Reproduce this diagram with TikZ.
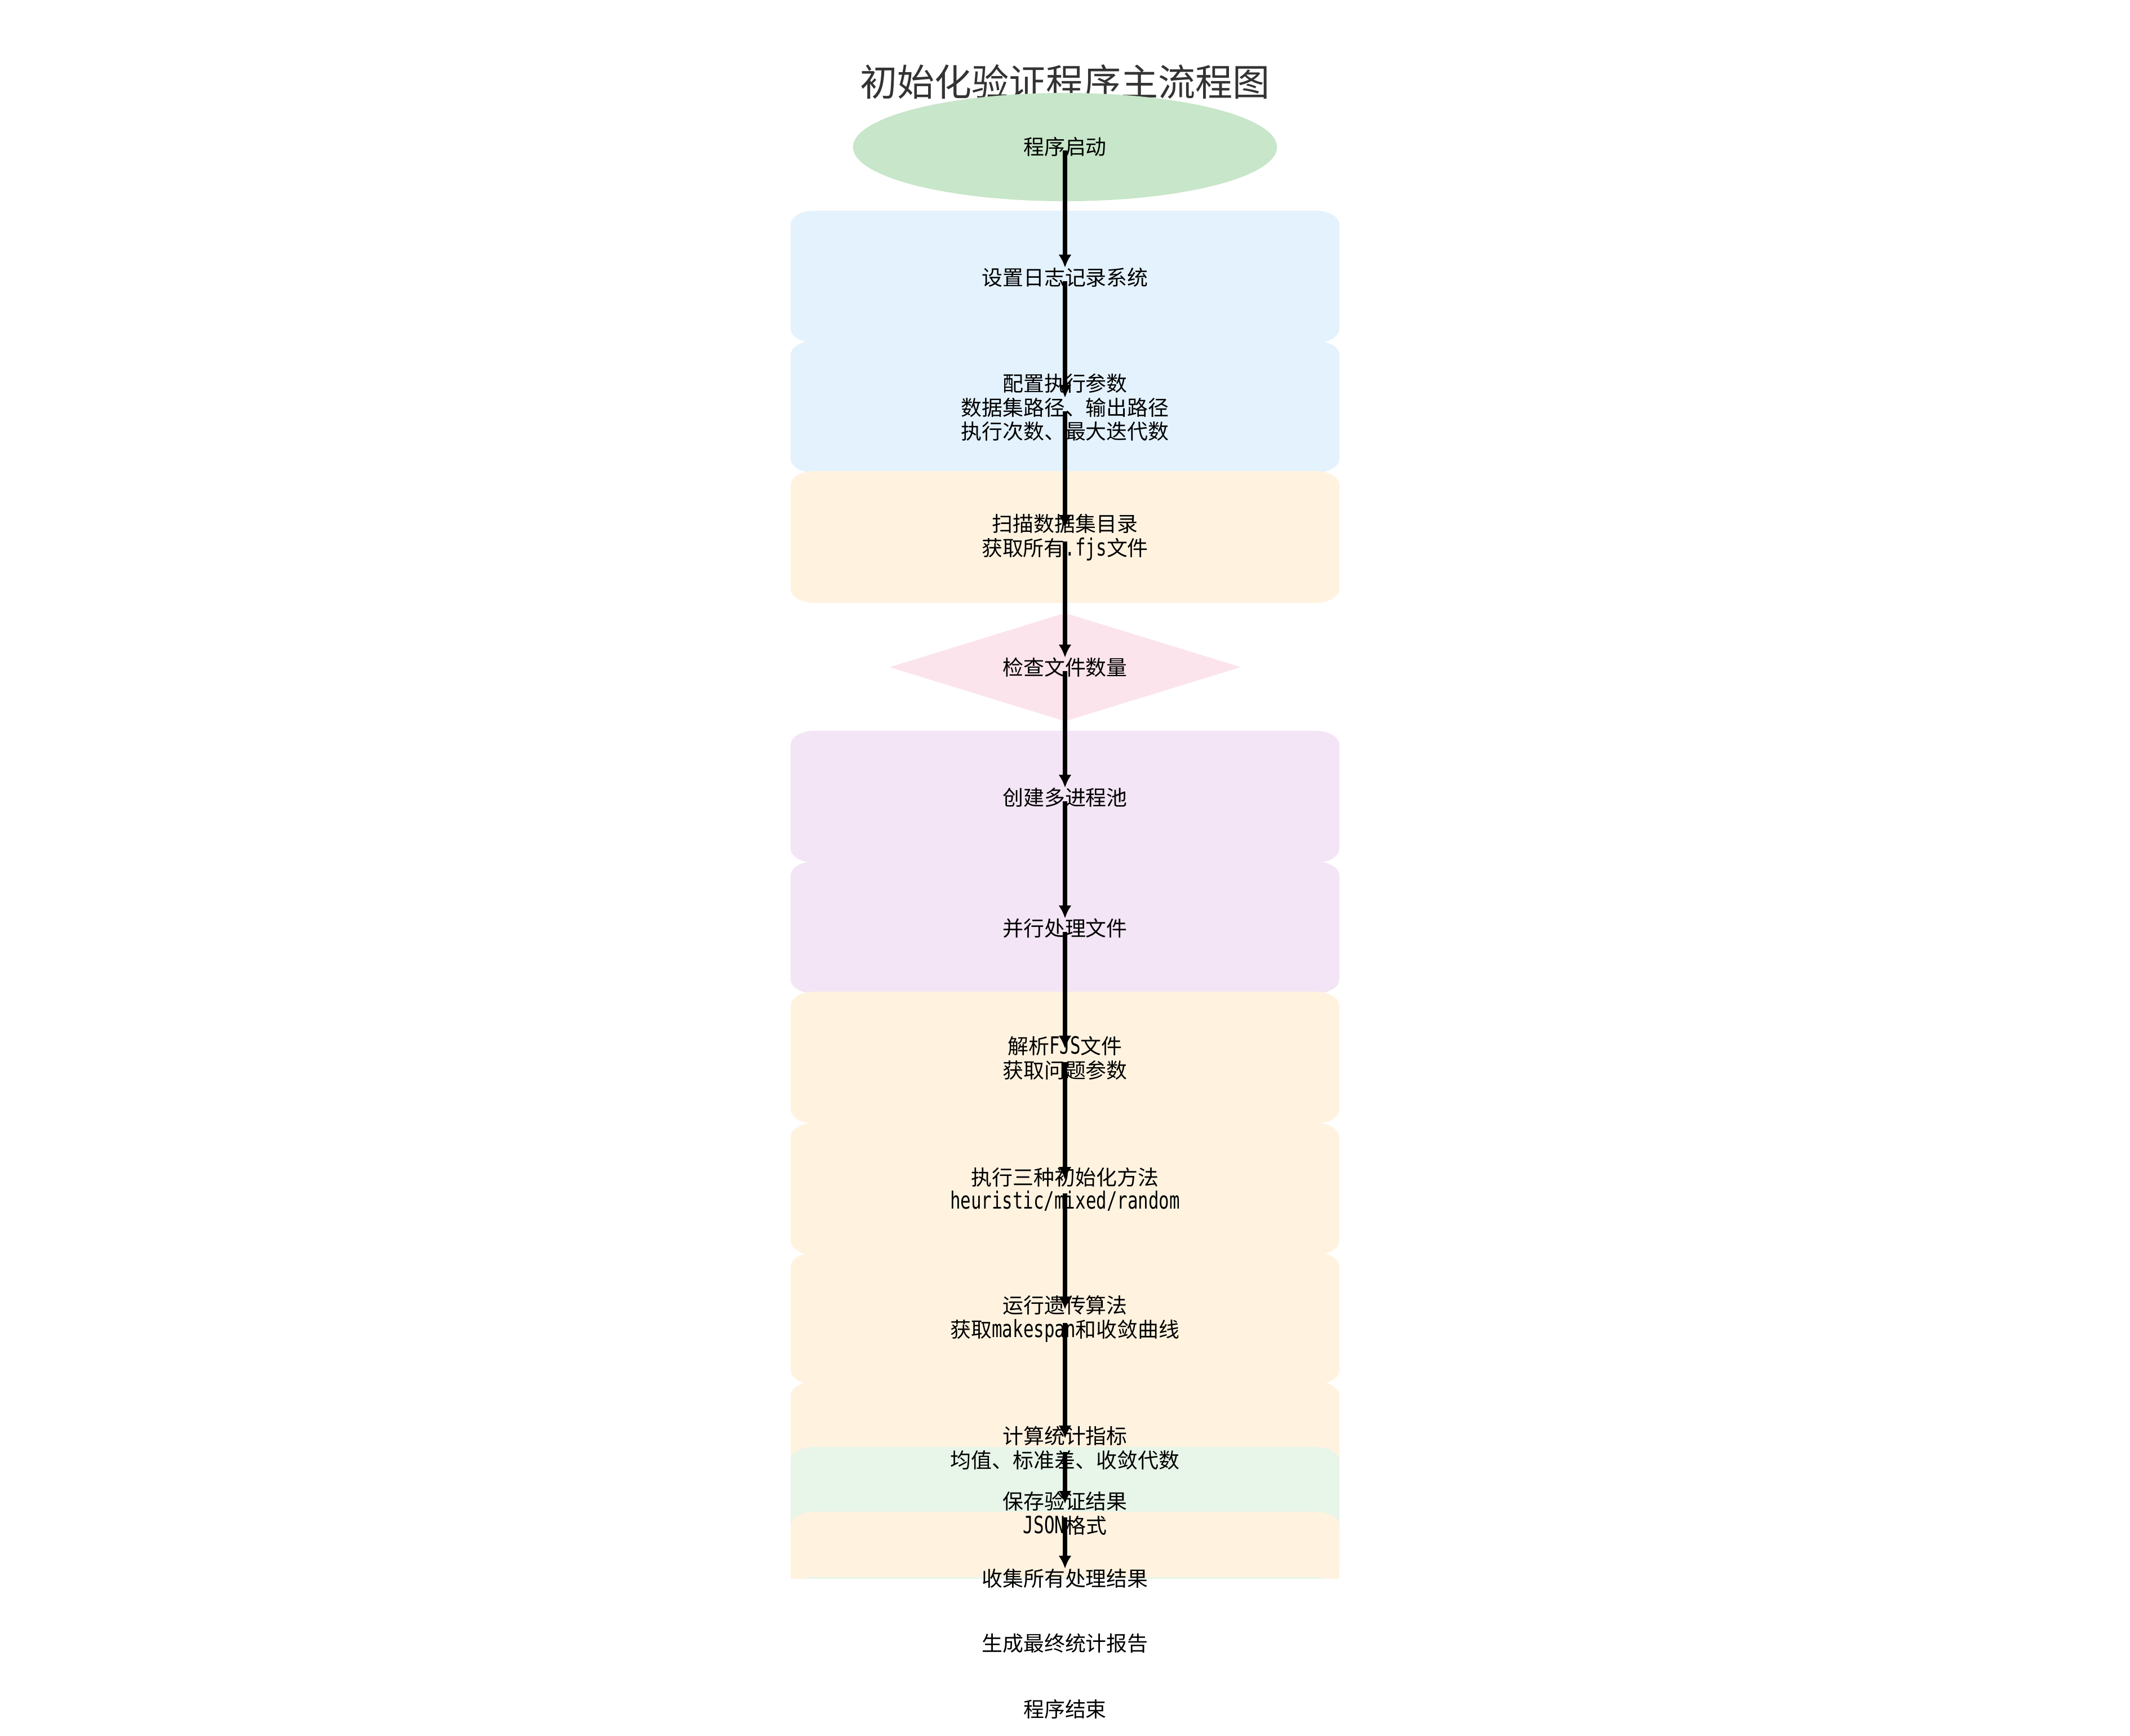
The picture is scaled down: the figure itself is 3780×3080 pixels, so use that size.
\documentclass[tikz,border=0pt]{standalone}
\usepackage{fontspec}
\setmainfont{Noto Sans CJK SC}
\newfontfamily\latmono[FakeStretch=0.73]{DejaVu Sans Mono}
\newcommand\latseg[1]{{\latmono\fontsize{12}{12.1}\selectfont #1}}
\usetikzlibrary{arrows.meta,shapes.geometric}
\definecolor{cblue}{HTML}{E3F2FD}
\definecolor{corange}{HTML}{FFF3E0}
\definecolor{cpink}{HTML}{FCE4EC}
\definecolor{cpurple}{HTML}{F3E5F5}
\definecolor{cgreen}{HTML}{C8E6C9}
\definecolor{clgreen}{HTML}{E8F5E9}
\definecolor{ctitle}{HTML}{333333}
\newcommand\flowbox[2]{%
\pgfmathsetmacro\bT{#1-118}\pgfmathsetmacro\bB{#1+116}%
\fill[#2] (1445,\bT) -- (2335,\bT) .. controls (2358.2,\bT) and (2377,\bT+11.2) .. (2377,\bT+25)
 -- (2377,\bB-25) .. controls (2377,\bB-11.2) and (2358.2,\bB) .. (2335,\bB)
 -- (1445,\bB) .. controls (1421.8,\bB) and (1403,\bB-11.2) .. (1403,\bB-25)
 -- (1403,\bT+25) .. controls (1403,\bT+11.2) and (1421.8,\bT) .. (1445,\bT) -- cycle;}
\begin{document}
\begin{tikzpicture}[x=0.01cm,y=-0.01cm,
  txt/.style={font=\fontsize{10.5}{12.1}\selectfont, align=center, inner sep=0pt, text=black},
  arr/.style={draw=black, line width=0.08cm, -{Latex[length=0.23cm,width=0.23cm]}}]
\useasboundingbox (0,0) rectangle (3780,3080);
\fill[white] (0,0) rectangle (3780,3080);

% title
\node[font=\fontsize{18.8}{22}\selectfont, text=ctitle, inner sep=0pt] (title) at (1890,145) {初始化验证程序主流程图};

% shapes
\begin{scope}
\clip (0,0) rectangle (3780,2801);
\node[ellipse, fill=cgreen, minimum width=7.52cm, minimum height=1.92cm, inner sep=0pt] (s0) at (1890,261) {};
\flowbox{492}{cblue}
\flowbox{723}{cblue}
\flowbox{954}{corange}
\fill[cpink] (1579,1184) -- (1890,1088) -- (2202,1184) -- (1890,1280) -- cycle;
\flowbox{1415}{cpurple}
\flowbox{1647}{cpurple}
\flowbox{1878}{corange}
\flowbox{2111}{corange}
\flowbox{2341}{corange}
\flowbox{2570}{corange}
\flowbox{2686}{clgreen}
\flowbox{2801}{corange}
\flowbox{2917}{clgreen}
\end{scope}

% texts
\node[txt] (n0) at (1890,260) {程序启动};
\node[txt] (n1) at (1890,492) {设置日志记录系统};
\node[txt] (n2) at (1890,723) {配置执行参数\\数据集路径、输出路径\\执行次数、最大迭代数};
\node[txt] (n3) at (1890,954) {扫描数据集目录\\获取所有\latseg{.fjs}文件};
\node[txt] (n4) at (1890,1184) {检查文件数量};
\node[txt] (n5) at (1890,1415) {创建多进程池};
\node[txt] (n6) at (1890,1647) {并行处理文件};
\node[txt] (n7) at (1890,1878) {解析\latseg{FJS}文件\\获取问题参数};
\node[txt] (n8) at (1890,2111) {执行三种初始化方法\\\latseg{heuristic/mixed/random}};
\node[txt] (n9) at (1890,2341) {运行遗传算法\\获取\latseg{makespan}和收敛曲线};
\node[txt] (n10) at (1890,2570) {计算统计指标\\均值、标准差、收敛代数};
\node[txt] (n11) at (1890,2686) {保存验证结果\\\latseg{JSON}格式};
\node[txt] (n12) at (1890,2801) {收集所有处理结果};
\node[txt] (n13) at (1890,2917) {生成最终统计报告};
\node[txt] (n14) at (1890,3033) {程序结束};

% arrows
\foreach \a/\b in {n0/n1,n1/n2,n2/n3,n3/n4,n4/n5,n5/n6,n6/n7,n7/n8,n8/n9,n9/n10,n10/n11,n11/n12}
  \draw[arr] ([yshift=-0.07cm]\a.center) -- ([yshift=0.17cm]\b.center);
\end{tikzpicture}
\end{document}
